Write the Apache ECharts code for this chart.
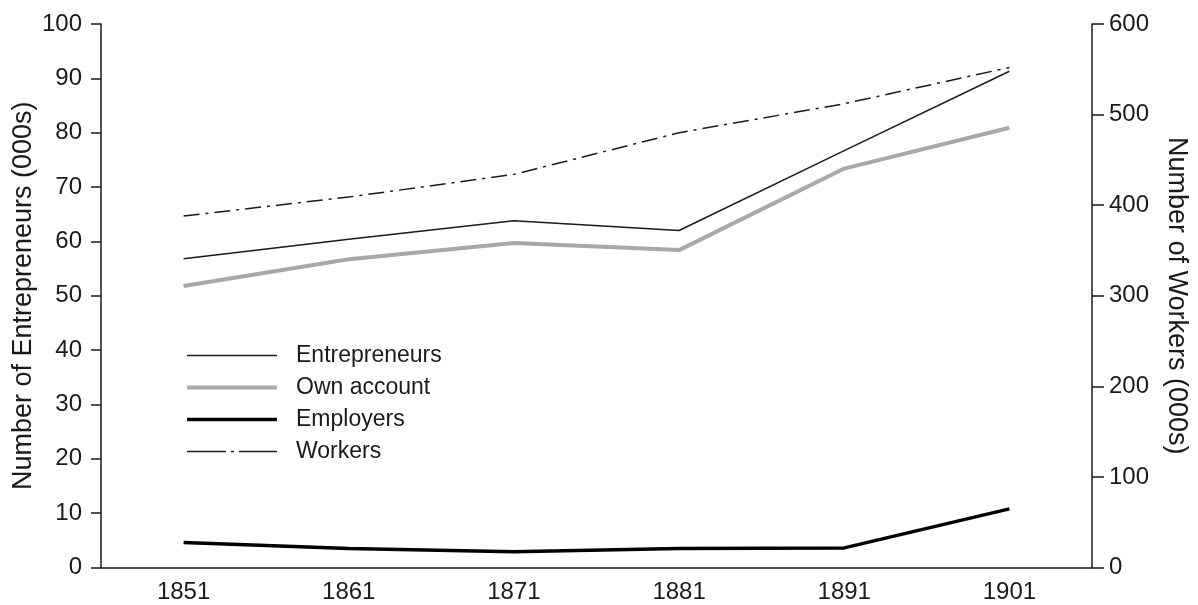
<!DOCTYPE html>
<html>
<head>
<meta charset="utf-8">
<title>Entrepreneurs and workers</title>
<script src="https://cdn.jsdelivr.net/npm/echarts@6/dist/echarts.min.js"></script>
<style>
  html, body { margin: 0; padding: 0; background: #fff; }
  #chart { width: 1198px; height: 605px; }
</style>
</head>
<body>
<div id="chart"></div>
<script>
// census years
var years = ['1851', '1861', '1871', '1881', '1891', '1901'];
// left axis, thousands
var entrepreneurs = [56.8, 60.4, 63.8, 62.0, 76.7, 91.3];
var ownAccount = [51.8, 56.7, 59.7, 58.4, 73.4, 80.9];
var employers = [4.6, 3.5, 2.9, 3.5, 3.6, 10.8];
// right axis, thousands
var workers = [388, 409, 434, 480, 512, 552];

var font = 'Liberation Sans, Arial, sans-serif';
var ink = '#1a1a1a';
var grey = '#a8a8a8';
var dashDot = [16, 6, 3, 6];

var chart = echarts.init(document.getElementById('chart'));
chart.setOption({
  animation: false,
  textStyle: { fontFamily: font, color: ink },
  // keep the plot box fixed, names sit in the margins
  grid: { left: 101, right: 106, top: 24, bottom: 37.5, outerBoundsMode: 'none' },
  legend: {
    orient: 'vertical',
    left: 185,
    top: 344,
    padding: 0,
    itemWidth: 90,
    itemHeight: 24,
    itemGap: 9,
    textStyle: { fontSize: 23, color: ink, fontFamily: font, padding: [0, 0, 0, 14] },
    // legend keys are plain line samples, no symbol
    data: [
      { name: 'Entrepreneurs', itemStyle: { opacity: 0 }, lineStyle: { color: ink, width: 1.5 } },
      { name: 'Own account', itemStyle: { opacity: 0 }, lineStyle: { color: grey, width: 4 } },
      { name: 'Employers', itemStyle: { opacity: 0 }, lineStyle: { color: '#000', width: 3.4 } },
      { name: 'Workers', itemStyle: { opacity: 0 }, lineStyle: { color: ink, width: 1.5, type: [39, 5, 3, 5] } }
    ]
  },
  xAxis: {
    type: 'category',
    data: years,
    boundaryGap: true,
    axisLine: { lineStyle: { color: ink, width: 1.5 } },
    axisTick: { length: 14, lineStyle: { color: ink, width: 1.5 } },
    axisLabel: { fontSize: 24, color: ink, margin: 13 }
  },
  yAxis: [
    {
      type: 'value',
      min: 0,
      max: 100,
      interval: 10,
      name: 'Number of Entrepreneurs (000s)',
      nameLocation: 'middle',
      nameRotate: 90,
      nameGap: 64,
      nameMoveOverlap: false,
      nameTextStyle: { fontSize: 27, color: ink },
      splitLine: { show: false },
      axisLine: { show: true, lineStyle: { color: ink, width: 1.5 } },
      axisTick: { show: true, length: 10, lineStyle: { color: ink, width: 1.5 } },
      axisLabel: { fontSize: 24, color: ink, margin: 19 }
    },
    {
      type: 'value',
      min: 0,
      max: 600,
      interval: 100,
      position: 'right',
      name: 'Number of Workers (000s)',
      nameLocation: 'middle',
      nameRotate: -90,
      nameGap: 71,
      nameTextStyle: { fontSize: 27, color: ink },
      splitLine: { show: false },
      axisLine: { show: true, lineStyle: { color: ink, width: 1.5 } },
      axisTick: { show: true, length: 12, lineStyle: { color: ink, width: 1.5 } },
      axisLabel: { fontSize: 24, color: ink, margin: 17 }
    }
  ],
  series: [
    {
      name: 'Entrepreneurs',
      type: 'line',
      data: entrepreneurs,
      symbol: 'none',
      itemStyle: { color: ink },
      lineStyle: { color: ink, width: 1.5 }
    },
    {
      name: 'Own account',
      type: 'line',
      data: ownAccount,
      symbol: 'none',
      itemStyle: { color: grey },
      lineStyle: { color: grey, width: 4 }
    },
    {
      name: 'Employers',
      type: 'line',
      data: employers,
      symbol: 'none',
      itemStyle: { color: '#000' },
      lineStyle: { color: '#000', width: 3.4 }
    },
    {
      name: 'Workers',
      type: 'line',
      yAxisIndex: 1,
      data: workers,
      symbol: 'none',
      itemStyle: { color: ink },
      lineStyle: { color: ink, width: 1.5, type: dashDot }
    }
  ]
});
</script>
</body>
</html>
